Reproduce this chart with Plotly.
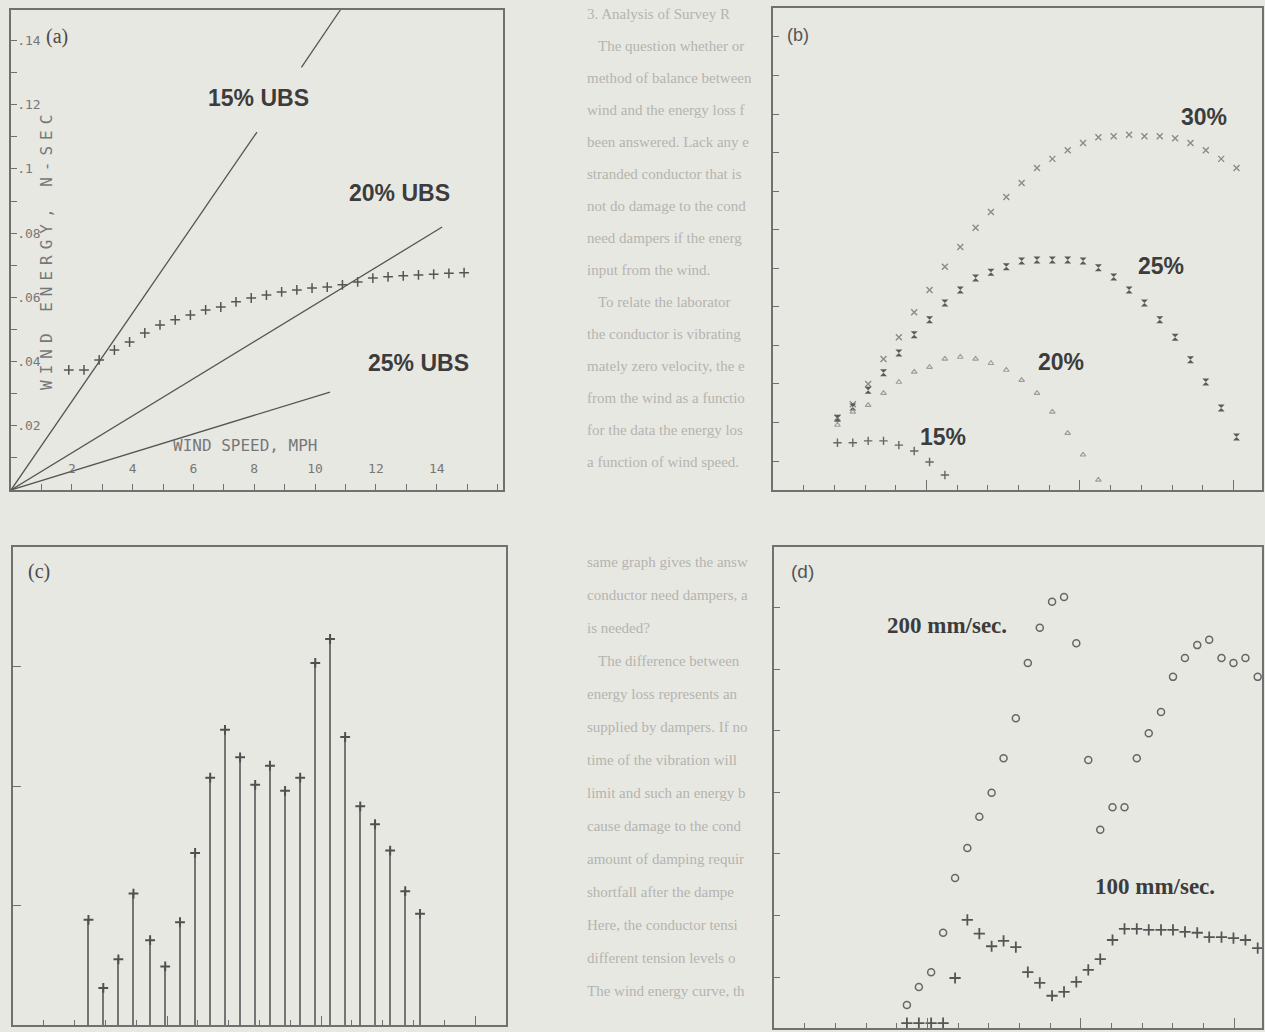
import plotly.graph_objects as go

W, H = 1265, 1032
BG = '#e8e8e3'
INK = '#3c3c3c'
AX = '#707070'

# ---------------- panel (a): wind energy vs wind speed ----------------
a_speed = [1.9, 2.4, 2.9, 3.4, 3.9, 4.4, 4.9, 5.4, 5.9, 6.4, 6.9, 7.4, 7.9, 8.4,
           8.9, 9.4, 9.9, 10.4, 10.9, 11.4, 11.9, 12.4, 12.9, 13.4, 13.9, 14.4, 14.9]
a_energy = [0.0374, 0.0374, 0.0405, 0.0436, 0.0461, 0.0489, 0.0514, 0.0530, 0.0545,
            0.0561, 0.0570, 0.0586, 0.0598, 0.0607, 0.0617, 0.0623, 0.0629, 0.0632,
            0.0639, 0.0648, 0.0660, 0.0664, 0.0667, 0.0670, 0.0672, 0.0675, 0.0677]
ubs15_x = [0, 8.09, None, 9.55, 10.83]
ubs15_y = [0, 0.1115, None, 0.1316, 0.1495]
ubs20_x = [0, 14.18]
ubs20_y = [0, 0.0819]
ubs25_x = [0, 10.49]
ubs25_y = [0, 0.0305]
a_xticks = list(range(1, 17))
a_xlabels = ['', '2', '', '4', '', '6', '', '8', '', '10', '', '12', '', '14', '', '']
a_yticks = [0.01, 0.02, 0.03, 0.04, 0.05, 0.06, 0.07, 0.08, 0.09, 0.10, 0.11, 0.12, 0.13, 0.14]
a_ylabels = ['', '.02', '', '.04', '', '.06', '', '.08', '', '.1', '', '.12', '', '.14']

# ---------------- panel (b) ----------------
b_x = [2.1, 2.6, 3.1, 3.6, 4.1, 4.6, 5.1, 5.6, 6.1, 6.6, 7.1, 7.6, 8.1, 8.6,
       9.1, 9.6, 10.1, 10.6, 11.1, 11.6, 12.1, 12.6, 13.1, 13.6, 14.1, 14.6, 15.1]
b30 = [15.0, 17.8, 22.0, 27.2, 31.7, 36.9, 41.5, 46.3, 50.4, 54.4, 57.7, 60.8, 63.7,
       66.8, 68.7, 70.5, 72.0, 73.2, 73.4, 73.7, 73.4, 73.4, 73.0, 72.0, 70.5, 68.7, 66.8]
b25 = [14.9, 17.2, 20.7, 24.3, 28.4, 32.2, 35.3, 38.8, 41.5, 44.0, 45.2, 46.3, 47.5,
       47.7, 47.7, 47.7, 47.5, 46.1, 44.2, 41.5, 38.8, 35.3, 31.7, 27.0, 22.4, 17.0, 11.0]
b20 = [13.5, 16.2, 17.6, 20.1, 22.4, 24.5, 25.5, 27.2, 27.6, 27.2, 26.3, 24.9, 22.8,
       20.1, 16.2, 11.8, 7.3, 2.1]
b15 = [9.8, 9.8, 10.2, 10.2, 9.3, 8.1, 5.8, 3.1]

# ---------------- panel (c) ----------------
c_x = [2.45, 2.93, 3.42, 3.91, 4.45, 4.94, 5.42, 5.91, 6.40, 6.88, 7.37, 7.86,
       8.34, 8.83, 9.32, 9.81, 10.29, 10.78, 11.27, 11.75, 12.24, 12.73, 13.21]
c_y = [0.88, 0.31, 0.55, 1.10, 0.71, 0.49, 0.86, 1.44, 2.07, 2.47, 2.24, 2.01,
       2.17, 1.96, 2.07, 3.03, 3.23, 2.41, 1.83, 1.68, 1.46, 1.12, 0.93]

# ---------------- panel (d) ----------------
d_x = [4.33, 4.72, 5.12, 5.51, 5.90, 6.30, 6.69, 7.09, 7.48, 7.88, 8.27, 8.66,
       9.06, 9.45, 9.85, 10.24, 10.63, 11.03, 11.42, 11.82, 12.21, 12.61, 13.00,
       13.39, 13.79, 14.18, 14.58, 14.97, 15.36, 15.76]
d200 = [4.8, 8.5, 11.6, 19.8, 31.2, 37.4, 43.9, 48.9, 56.1, 64.4, 75.9, 83.2, 88.6,
        89.6, 80.0, 55.7, 41.2, 45.9, 45.9, 56.1, 61.3, 65.7, 73.0, 76.9, 79.6,
        80.7, 76.9, 75.9, 76.9, 73.0]
d100 = [1.0, 1.0, 1.0, 1.0, 10.4, 22.5, 19.6, 17.0, 18.1, 16.8, 11.6, 9.4, 6.7,
        7.5, 9.6, 12.1, 14.3, 18.3, 20.6, 20.6, 20.4, 20.4, 20.4, 20.0, 19.8, 18.9,
        18.9, 18.7, 18.3, 16.6]

# body text of the page visible between the panels
body_upper = ['3. Analysis of Survey R',
              '   The question whether or',
              'method of balance between',
              'wind and the energy loss f',
              'been answered. Lack any e',
              'stranded conductor that is',
              'not do damage to the cond',
              'need dampers if the energ',
              'input from the wind.',
              '   To relate the laborator',
              'the conductor is vibrating',
              'mately zero velocity, the e',
              'from the wind as a functio',
              'for the data the energy los',
              'a function of wind speed.']
body_lower = ['same graph gives the answ',
              'conductor need dampers, a',
              'is needed?',
              '   The difference between',
              'energy loss represents an',
              'supplied by dampers. If no',
              'time of the vibration will',
              'limit and such an energy b',
              'cause damage to the cond',
              'amount of damping requir',
              'shortfall after the dampe',
              'Here, the conductor tensi',
              'different tension levels o',
              'The wind energy curve, th']


def px_x(p):
    return p / W


def px_y(p):
    return 1 - p / H


fig = go.Figure()

line_style = dict(color='#555555', width=1.3)
fig.add_trace(go.Scatter(x=ubs15_x, y=ubs15_y, mode='lines', line=line_style,
                         xaxis='x', yaxis='y', connectgaps=False))
fig.add_trace(go.Scatter(x=ubs20_x, y=ubs20_y, mode='lines', line=line_style,
                         xaxis='x', yaxis='y'))
fig.add_trace(go.Scatter(x=ubs25_x, y=ubs25_y, mode='lines', line=line_style,
                         xaxis='x', yaxis='y'))
fig.add_trace(go.Scatter(x=a_speed, y=a_energy, mode='markers', xaxis='x', yaxis='y',
                         marker=dict(symbol='cross-thin', size=7, color='#555555',
                                     line=dict(color='#555555', width=1.5))))

# (b)
fig.add_trace(go.Scatter(x=b_x, y=b30, mode='markers', xaxis='x2', yaxis='y2',
                         marker=dict(symbol='x-thin', size=6, color='#8a8a8a',
                                     line=dict(color='#8a8a8a', width=1.4))))
fig.add_trace(go.Scatter(x=b_x, y=b25, mode='markers', xaxis='x2', yaxis='y2',
                         marker=dict(symbol='hourglass', size=7, color='#5a5a5a',
                                     line=dict(width=0))))
fig.add_trace(go.Scatter(x=b_x[:len(b20)], y=b20, mode='markers', xaxis='x2', yaxis='y2',
                         marker=dict(symbol='triangle-up-open', size=5, color='#9c9c9c',
                                     line=dict(color='#9c9c9c', width=1.1))))
fig.add_trace(go.Scatter(x=b_x[:len(b15)], y=b15, mode='markers', xaxis='x2', yaxis='y2',
                         marker=dict(symbol='cross-thin', size=6, color='#666666',
                                     line=dict(color='#666666', width=1.4))))

# (c) stems
fig.add_trace(go.Bar(x=c_x, y=c_y, width=0.045, xaxis='x3', yaxis='y3',
                     marker=dict(color='#757575', line=dict(width=0))))
fig.add_trace(go.Scatter(x=c_x, y=c_y, mode='markers', xaxis='x3', yaxis='y3',
                         marker=dict(symbol='cross-thin', size=7, color='#505050',
                                     line=dict(color='#505050', width=2))))

# (d)
fig.add_trace(go.Scatter(x=d_x, y=d200, mode='markers', xaxis='x4', yaxis='y4',
                         marker=dict(symbol='circle-open', size=7, color='#666666',
                                     line=dict(color='#666666', width=1.5))))
fig.add_trace(go.Scatter(x=d_x, y=d100, mode='markers', xaxis='x4', yaxis='y4',
                         cliponaxis=False,
                         marker=dict(symbol='cross-thin', size=8, color='#555555',
                                     line=dict(color='#555555', width=1.8))))

mono = dict(family='DejaVu Sans Mono', size=13, color='#777777')
frame = dict(showline=True, mirror=True, linecolor=AX, linewidth=1.5,
             showgrid=False, zeroline=False, fixedrange=True)

layout = dict(
    width=W, height=H, autosize=False,
    margin=dict(l=0, r=0, t=0, b=0),
    paper_bgcolor=BG, plot_bgcolor=BG,
    showlegend=False, bargap=0,
    # (a)
    xaxis=dict(frame, domain=[px_x(11), px_x(503)], range=[0, 16.18], anchor='y',
               ticks='inside', ticklen=6, tickcolor=AX, tickvals=a_xticks,
               ticktext=a_xlabels, ticklabelposition='inside', tickfont=mono,
               ticklabelstandoff=8),
    yaxis=dict(frame, domain=[px_y(490), px_y(10)], range=[0, 0.1495], anchor='x',
               ticks='inside', ticklen=6, tickcolor=AX, tickvals=a_yticks,
               ticktext=a_ylabels, ticklabelposition='inside', tickfont=mono),
    # (b)
    xaxis2=dict(frame, domain=[px_x(773), px_x(1262)], range=[0, 15.93], anchor='y2',
                ticks='inside', ticklen=10, tickcolor=AX, dtick=5, tick0=0,
                showticklabels=False,
                minor=dict(ticks='inside', ticklen=5, dtick=1, tickcolor=AX)),
    yaxis2=dict(frame, domain=[px_y(490), px_y(8)], range=[0, 100], anchor='x2',
                ticks='inside', ticklen=6, tickcolor=AX, tick0=14, dtick=8,
                showticklabels=False),
    # (c)
    xaxis3=dict(frame, domain=[px_x(13), px_x(506)], range=[0, 16.0], anchor='y3',
                ticks='inside', ticklen=9, tickcolor=AX, dtick=5, tick0=0,
                showticklabels=False,
                minor=dict(ticks='inside', ticklen=5, dtick=1, tickcolor=AX)),
    yaxis3=dict(frame, domain=[px_y(1025), px_y(547)], range=[0, 4.0], anchor='x3',
                ticks='inside', ticklen=8, tickcolor=AX, tickvals=[1, 2, 3],
                showticklabels=False),
    # (d)
    xaxis4=dict(frame, domain=[px_x(774), px_x(1262)], range=[0, 15.9], anchor='y4',
                ticks='inside', ticklen=10, tickcolor=AX, dtick=5, tick0=0,
                showticklabels=False,
                minor=dict(ticks='inside', ticklen=5, dtick=1, tickcolor=AX)),
    yaxis4=dict(frame, domain=[px_y(1028), px_y(547)], range=[0, 100], anchor='x4',
                ticks='inside', ticklen=6, tickcolor=AX, tick0=10.6, dtick=12.8,
                showticklabels=False),
)
fig.update_layout(**layout)

ann = []
sans_b = dict(family='Liberation Sans', size=23, color=INK)
serif_b = dict(family='Liberation Serif', size=23, color=INK)


def lab(text, xp, yp, font, **kw):
    ann.append(dict(text=text, x=px_x(xp), y=px_y(yp), xref='paper', yref='paper',
                    showarrow=False, font=font, xanchor='center', yanchor='middle', **kw))


# panel letters
lab('(a)', 57, 37, dict(family='Liberation Serif', size=20, color='#4a4a4a'))
lab('(b)', 798, 35, dict(family='Liberation Sans', size=18, color='#555555'))
lab('(c)', 39, 571, dict(family='Liberation Serif', size=20, color='#4a4a4a'))
lab('(d)', 802, 571, dict(family='Liberation Sans', size=19, color='#555555'))

# (a) labels
lab('<b>15% UBS</b>', 258, 98, sans_b)
lab('<b>20% UBS</b>', 399, 193, sans_b)
lab('<b>25% UBS</b>', 418, 363, sans_b)
lab('WIND SPEED, MPH', 246, 445, dict(family='DejaVu Sans Mono', size=16, color='#777777'))
lab('<span style="letter-spacing:6px">WIND ENERGY, N-SEC</span>', 46, 250,
    dict(family='DejaVu Sans Mono', size=16, color='#777777'), textangle=-90)

# (b) labels
lab('<b>30%</b>', 1204, 117, sans_b)
lab('<b>25%</b>', 1161, 266, sans_b)
lab('<b>20%</b>', 1061, 362, sans_b)
lab('<b>15%</b>', 943, 437, sans_b)

# (d) labels
lab('<b>200 mm/sec.</b>', 947, 625, serif_b)
lab('<b>100 mm/sec.</b>', 1155, 886, serif_b)

# page text between panels
body_font = dict(family='Liberation Serif', size=15, color='#b4b4ae')
for i, t in enumerate(body_upper):
    ann.append(dict(text=t, x=px_x(585), y=px_y(14 + 32 * i), xref='paper', yref='paper',
                    showarrow=False, font=body_font, xanchor='left', yanchor='middle'))
for i, t in enumerate(body_lower):
    ann.append(dict(text=t, x=px_x(585), y=px_y(562 + 33 * i), xref='paper', yref='paper',
                    showarrow=False, font=body_font, xanchor='left', yanchor='middle'))

fig.update_layout(annotations=ann)
fig.write_html('out.html', config={'displayModeBar': False},
               post_script="document.body.style.margin='0';document.body.style.overflow='hidden';")
